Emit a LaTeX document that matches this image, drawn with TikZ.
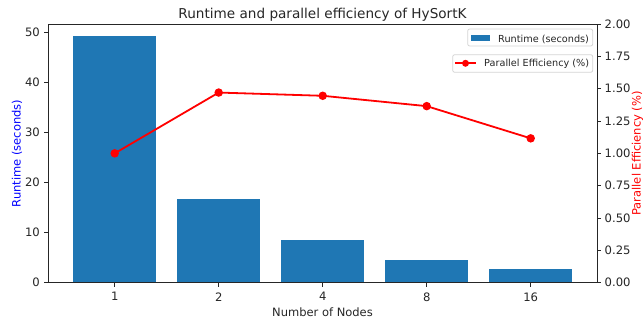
\documentclass[tikz,border=0pt]{standalone}
\usepackage{fontspec}
\setmainfont{DejaVu Sans}
\definecolor{barblue}{HTML}{1F77B4}
\definecolor{effred}{HTML}{FF0000}
\definecolor{labblue}{HTML}{0000FF}
\definecolor{spine}{HTML}{262626}
\definecolor{legedge}{HTML}{D5D5D5}
\tikzset{
  ticklab/.style={inner sep=0pt, font=\fontsize{11.6}{13}\selectfont, text=spine},
  axlab/.style={inner sep=0pt, font=\fontsize{11.5}{13}\selectfont},
  leglab/.style={inner sep=0pt, font=\fontsize{9.7}{11}\selectfont, text=spine, anchor=base west},
  legbox/.style={draw=legedge, fill=white, rounded corners=2pt, line width=0.8pt},
  bar/.style={fill=barblue},
  effline/.style={draw=effred, line width=1.8pt},
  effmark/.style={circle, fill=effred, inner sep=0pt, minimum size=8.5pt},
  legmark/.style={circle, fill=effred, inner sep=0pt, minimum size=7pt},
  tick/.style={draw=spine, line width=0.8pt},
  spineline/.style={draw=spine, line width=0.8pt},
}
\begin{document}
\begin{tikzpicture}[x=1pt,y=-1pt]
\useasboundingbox (0,0) rectangle (644,324);
% axis geometry: left 48, right 597, top 24, bottom 282.7
% bars
\foreach \cx/\v in {114.7/49.2, 218.7/16.7, 322.7/8.5, 426.7/4.5, 530.7/2.75}{
  \fill[bar] ({\cx-41.6},282.7) rectangle ({\cx+41.6},{282.7-5.008*\v});
}
% efficiency points
\coordinate (p1) at (114.7,{282.7-129.35*1.0});
\coordinate (p2) at (218.7,{282.7-129.35*1.47});
\coordinate (p3) at (322.7,{282.7-129.35*1.445});
\coordinate (p4) at (426.7,{282.7-129.35*1.365});
\coordinate (p5) at (530.7,{282.7-129.35*1.116});
\draw[effline, line join=round] (p1) -- (p2) -- (p3) -- (p4) -- (p5);
\foreach \p in {p1,p2,p3,p4,p5}{ \node[effmark] at (\p) {}; }
% spines
\draw[spineline] (48,24) rectangle (597,282.7);
% x ticks
\foreach \cx/\t in {114.7/1, 218.7/2, 322.7/4, 426.7/8, 530.7/16}{
  \draw[tick] (\cx,282.7) -- (\cx,286.7);
  \node[ticklab, anchor=north] at (\cx,292.3) {\t};
}
% left ticks
\foreach \v in {0,10,20,30,40,50}{
  \draw[tick] (44,{282.7-5.008*\v}) -- (48,{282.7-5.008*\v});
  \node[ticklab, anchor=east] at (40,{282.7-5.008*\v}) {\v};
}
% right ticks
\foreach \v/\t in {0/0.00,0.25/0.25,0.5/0.50,0.75/0.75,1/1.00,1.25/1.25,1.5/1.50,1.75/1.75,2/2.00}{
  \draw[tick] (597,{282.7-129.35*\v}) -- (601,{282.7-129.35*\v});
  \node[ticklab, anchor=west] at (604.5,{282.7-129.35*\v}) {\t};
}
% labels
\node[axlab, text=spine, anchor=north] (xl) at (322.5,307.3) {Number of Nodes};
\node[axlab, text=labblue, rotate=90, anchor=base] (yl) at (20.5,153.4) {Runtime (seconds)};
\node[axlab, text=effred, rotate=90, anchor=base] (yr) at (640.6,153.4) {Parallel Efficiency (\%)};
\node[inner sep=0pt, font=\fontsize{13.6}{16}\selectfont, text=spine, anchor=base] (title) at (322.5,18.3) {Runtime and parallel efficiency of HySortK};
% legend 1
\draw[legbox] (467.7,29) rectangle (592.7,46);
\fill[bar] (471,35) rectangle (490,40.7);
\node[leglab] (l1) at (498,42.2) {Runtime (seconds)};
% legend 2
\draw[legbox] (452.7,54.7) rectangle (592.7,72.3);
\coordinate (la) at (455,63.3);
\coordinate (lb) at (476,63.3);
\draw[effline] (la) -- (lb);
\node[legmark] (lm) at (465.5,63.3) {};
\node[leglab] (l2) at (484,66.2) {Parallel Efficiency (\%)};
\end{tikzpicture}
\end{document}
